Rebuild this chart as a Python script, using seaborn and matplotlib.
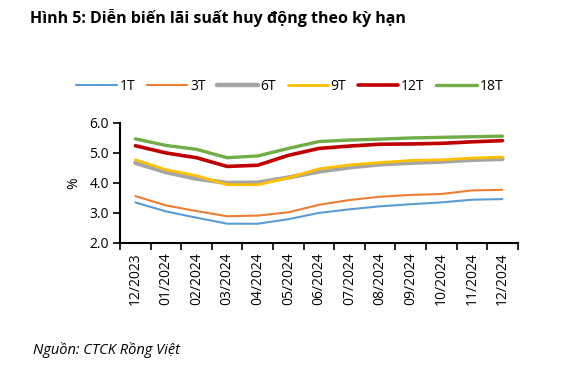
import pandas as pd
import seaborn as sns
import matplotlib.pyplot as plt

months = ['12/2023', '01/2024', '02/2024', '03/2024', '04/2024', '05/2024', '06/2024',
          '07/2024', '08/2024', '09/2024', '10/2024', '11/2024', '12/2024']
terms = ['1T', '3T', '6T', '9T', '12T', '18T']

rate_1t = [3.35, 3.05, 2.84, 2.64, 2.64, 2.79, 3.00, 3.12, 3.22, 3.29, 3.35, 3.44, 3.46]
rate_3t = [3.56, 3.25, 3.06, 2.89, 2.91, 3.02, 3.27, 3.43, 3.54, 3.60, 3.63, 3.75, 3.77]
rate_6t = [4.67, 4.36, 4.14, 4.00, 4.01, 4.18, 4.38, 4.52, 4.62, 4.67, 4.71, 4.77, 4.80]
rate_9t = [4.77, 4.44, 4.24, 3.94, 3.94, 4.17, 4.47, 4.60, 4.68, 4.75, 4.77, 4.83, 4.86]
rate_12t = [5.24, 5.00, 4.84, 4.55, 4.59, 4.92, 5.15, 5.23, 5.29, 5.30, 5.32, 5.37, 5.41]
rate_18t = [5.47, 5.25, 5.12, 4.84, 4.90, 5.15, 5.38, 5.43, 5.46, 5.50, 5.52, 5.54, 5.56]

colours = ['#5B9BD5', '#ED7D31', '#A5A5A5', '#FFC000', '#C00000', '#70AD47']
widths = [1.5, 1.5, 3.2, 2.0, 2.6, 2.4]

sns.set_theme(style='white', rc={'text.color': 'black', 'xtick.color': 'black',
                                 'ytick.color': 'black', 'axes.labelcolor': 'black'})
plt.rcParams['font.family'] = ['Open Sans', 'DejaVu Sans']

series = [rate_1t, rate_3t, rate_6t, rate_9t, rate_12t, rate_18t]
df = pd.DataFrame({
    'Tháng': months * len(terms),
    'x': list(range(len(months))) * len(terms),
    'Kỳ hạn': [t for t in terms for _ in months],
    'Lãi suất': [v for s in series for v in s],
})

fig = plt.figure(figsize=(5.83, 3.76), dpi=100)
ax = fig.add_axes([0.206, 0.354, 0.682, 0.319])

sns.lineplot(data=df, x='x', y='Lãi suất', hue='Kỳ hạn', palette=colours,
             ax=ax, legend=False)
for line, w in zip(ax.lines, widths):
    line.set_linewidth(w)
    line.set_solid_capstyle('round')

ax.set_xlim(-0.5, len(months) - 0.5)
ax.set_ylim(2.0, 6.0)
ax.set_yticks([2, 3, 4, 5, 6])
ax.set_yticklabels(['2.0', '3.0', '4.0', '5.0', '6.0'], fontsize=10)
ax.set_xticks(range(len(months)))
ax.set_xticklabels(months, rotation=90, fontsize=10)
ax.set_xticks([i - 0.5 for i in range(len(months) + 1)], minor=True)
ax.tick_params(axis='x', which='major', length=0, pad=7)
ax.tick_params(axis='x', which='minor', length=5, width=1.2, direction='out', bottom=True)
ax.tick_params(axis='y', length=5, width=1.2, direction='out', left=True, pad=3)
ax.set_xlabel('')
ax.set_ylabel('%', fontsize=10, labelpad=6)

sns.despine(ax=ax)
for side in ['left', 'bottom']:
    ax.spines[side].set_color('black')
    ax.spines[side].set_linewidth(1.5)

handles = ax.lines[:len(terms)]
fig.legend(handles, terms, loc='center', bbox_to_anchor=(0.497, 0.771), ncol=6,
           frameon=False, fontsize=10, handlelength=2.9, handletextpad=0.2,
           columnspacing=0.85)

fig.text(0.052, 0.952, 'Hình 5: Diễn biến lãi suất huy động theo kỳ hạn',
         fontsize=11.5, fontweight='bold', ha='left', va='center')
fig.text(0.057, 0.068, 'Nguồn: CTCK Rồng Việt', fontsize=10.5, style='italic',
         ha='left', va='center')

fig.savefig('out.png', dpi=100)
